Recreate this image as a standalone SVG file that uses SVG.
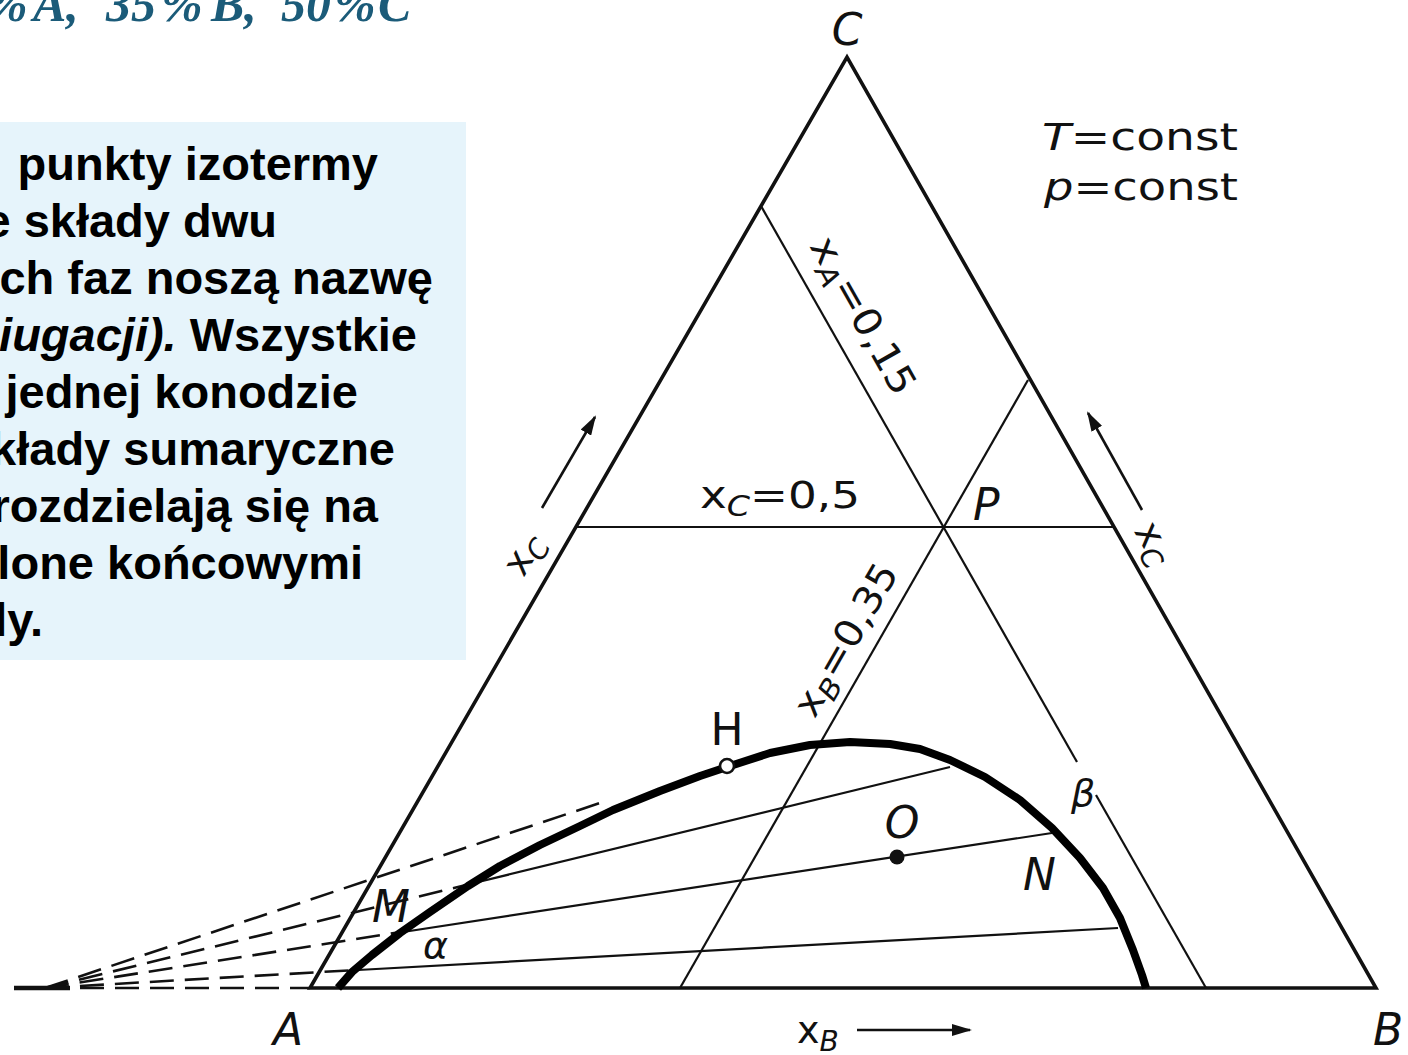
<svg xmlns="http://www.w3.org/2000/svg" width="1408" height="1055" viewBox="0 0 1408 1055">
<defs>
<marker id="ah" viewBox="0 0 20 12" refX="18" refY="6" markerWidth="20" markerHeight="12" markerUnits="userSpaceOnUse" orient="auto"><path d="M0,0 L20,6 L0,12 Z" fill="#111"/></marker>
</defs>
<style>
.edge{stroke:#111;stroke-width:3.6;fill:none;stroke-linecap:round}
.thin{stroke:#111;stroke-width:2.2;fill:none}
.dash{stroke:#111;stroke-width:2.6;fill:none;stroke-dasharray:24 11}
.curve{stroke:#000;stroke-width:8;fill:none;stroke-linejoin:round}
.arr{stroke:#111;stroke-width:2.6;fill:none;marker-end:url(#ah)}
.lab{font-family:"DejaVu Sans","Liberation Sans",sans-serif;fill:#111;font-size:38px}
.big{font-size:44px}
.it{font-style:italic}
.sub{font-size:28px;font-style:italic}
.box{font-family:"Liberation Sans",Arial,sans-serif;font-weight:bold;font-size:47px;fill:#000;text-anchor:end}
.title{font-family:"Liberation Serif","Times New Roman",serif;font-weight:bold;font-style:italic;font-size:50px;fill:#1b5b79}
</style>
<rect width="1408" height="1055" fill="#fff"/>

<g id="title">
<text class="title" y="21"><tspan x="-14">%</tspan><tspan x="33">A,</tspan><tspan x="106">35</tspan><tspan x="161">%</tspan><tspan x="211">B,</tspan><tspan x="281">50</tspan><tspan x="334">%</tspan><tspan x="378">C</tspan></text>
</g>

<g id="textbox">
<rect x="0" y="122" width="466" height="538" fill="#e6f4fb"/>
<text class="box" x="378" y="180">punkty izotermy</text>
<text class="box" x="277" y="237">e składy dwu</text>
<text class="box" x="433" y="294">ch faz noszą nazwę</text>
<text class="box" x="417" y="351"><tspan font-style="italic">iugacji).</tspan> Wszystkie</text>
<text class="box" x="358" y="408">jednej konodzie</text>
<text class="box" x="395" y="465">kłady sumaryczne</text>
<text class="box" x="378" y="522">rozdzielają się na</text>
<text class="box" x="363" y="579">lone końcowymi</text>
<text class="box" x="43" y="636">ly.</text>
</g>

<g id="triangle">
<path class="edge" d="M310,988 L847,57 L1376,988 Z" stroke-linejoin="miter"/>
</g>

<g id="connectors">
<g id="grid-lines">
<line class="thin" x1="576" y1="527" x2="1113" y2="527"/>
<line class="thin" x1="761" y1="206" x2="1077" y2="762"/>
<line class="thin" x1="1096" y1="795" x2="1206" y2="988"/>
<line class="thin" x1="680" y1="988" x2="1028" y2="380"/>
</g>
<g id="tie-lines">
<line class="thin" x1="470" y1="884" x2="950" y2="767"/>
<line class="thin" x1="403" y1="932" x2="1052" y2="833"/>
<line class="thin" x1="358" y1="970" x2="1118" y2="928"/>
</g>
<g id="dashed-extensions">
<line class="dash" x1="45" y1="988" x2="600" y2="803"/>
<line class="dash" x1="45" y1="988" x2="466" y2="885"/>
<line class="dash" x1="45" y1="988" x2="401" y2="932"/>
<line class="dash" x1="45" y1="988" x2="356" y2="970"/>
<line class="dash" x1="45" y1="988" x2="310" y2="988"/>
<line stroke="#111" stroke-width="4.5" x1="14" y1="988" x2="70" y2="988"/>
</g>
<g id="axis-arrows">
<line class="arr" x1="542" y1="508" x2="595" y2="417"/>
<line class="arr" x1="1142" y1="510" x2="1088" y2="413"/>
<line class="arr" x1="857" y1="1030" x2="970" y2="1030"/>
</g>
</g>

<g id="binodal">
<polyline class="curve" points="338,988 352,972 372,955 400,933 430,912 468,886 500,866 540,845 580,826 613,810 660,791 700,776 727,767 770,753 810,745 850,742 890,744 920,749 950,760 985,777 1020,800 1052,828 1080,858 1103,888 1120,918 1133,950 1142,975 1146,988"/>
</g>

<g id="point-H">
<circle cx="727" cy="766" r="7" fill="#fff" stroke="#111" stroke-width="2.6"/>
<text class="lab big" x="727" y="745" text-anchor="middle">H</text>
</g>
<g id="point-O">
<circle cx="897" cy="857" r="7.5" fill="#111"/>
<text class="lab big it" x="902" y="838" text-anchor="middle">O</text>
</g>
<g id="point-P">
<text class="lab big it" x="973" y="520">P</text>
</g>
<g id="point-M">
<text class="lab big it" x="372" y="922">M</text>
</g>
<g id="point-N">
<text class="lab big it" x="1023" y="890">N</text>
</g>
<g id="phase-alpha">
<text class="lab it" x="423" y="958" font-family="Liberation Serif,serif" font-size="40px">α</text>
</g>
<g id="phase-beta">
<text class="lab it" x="1071" y="806" font-family="Liberation Serif,serif" font-size="42px">β</text>
</g>

<g id="vertex-A"><text class="lab big it" x="288" y="1045" text-anchor="middle">A</text></g>
<g id="vertex-B"><text class="lab big it" x="1388" y="1045" text-anchor="middle">B</text></g>
<g id="vertex-C"><text class="lab big it" x="847" y="45" text-anchor="middle">C</text></g>

<g id="conditions">
<text class="lab" x="1042" y="150" font-size="40px" textLength="196" lengthAdjust="spacingAndGlyphs"><tspan class="it">T</tspan>=const</text>
<text class="lab" x="1044" y="200" font-size="40px" textLength="194" lengthAdjust="spacingAndGlyphs"><tspan class="it">p</tspan>=const</text>
</g>

<g id="axis-labels">
<text class="lab" x="700" y="508" textLength="160" lengthAdjust="spacingAndGlyphs">x<tspan class="sub" dy="8">C</tspan><tspan dy="-8">=0,5</tspan></text>
<text class="lab" transform="translate(852,322) rotate(60.5)" text-anchor="middle" textLength="175" lengthAdjust="spacingAndGlyphs">x<tspan class="sub" dy="8">A</tspan><tspan dy="-8">=0,15</tspan></text>
<text class="lab" transform="translate(857,646) rotate(-60)" text-anchor="middle" textLength="170" lengthAdjust="spacingAndGlyphs">x<tspan class="sub" dy="8">B</tspan><tspan dy="-8">=0,35</tspan></text>
<text class="lab" transform="translate(534,560) rotate(-60)" text-anchor="middle">x<tspan class="sub" dy="8">C</tspan></text>
<text class="lab" transform="translate(1144,549) rotate(60)" text-anchor="middle">x<tspan class="sub" dy="8">C</tspan></text>
<text class="lab" x="797" y="1043">x<tspan class="sub" dy="8">B</tspan></text>
</g>
</svg>
